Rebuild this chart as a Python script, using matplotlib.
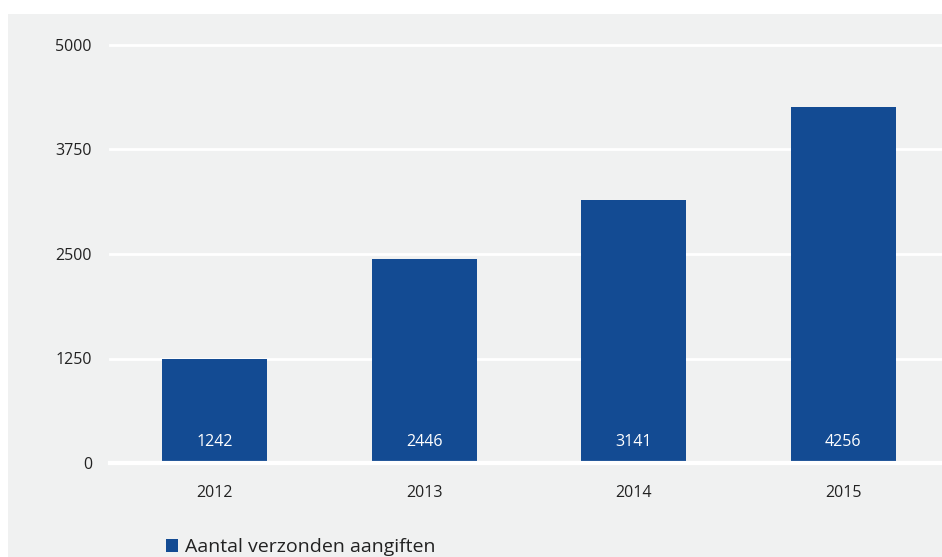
import matplotlib.pyplot as plt
from matplotlib.patches import Rectangle

years = ["2012", "2013", "2014", "2015"]
aangiften = [1242, 2446, 3141, 4256]
yticks = [0, 1250, 2500, 3750, 5000]

blue = "#134b93"
bg = "#f0f1f1"

plt.rcParams["font.family"] = ["Open Sans", "DejaVu Sans"]

fig = plt.figure(figsize=(9.42, 5.57), dpi=100)
fig.patches.append(Rectangle((8 / 942, 0), 1, 1 - 14 / 557, transform=fig.transFigure,
                             facecolor=bg, edgecolor="none", zorder=-10))

ax = fig.add_axes([110 / 942, 94 / 557, 838 / 942, 418 / 557])
ax.set_facecolor("none")

x = range(len(years))
bars = ax.bar(x, aangiften, width=0.5, color=blue, zorder=3, label="Aantal verzonden aangiften")

for xi, v in zip(x, aangiften):
    ax.annotate(str(v), (xi, 0), xytext=(0, 15), textcoords="offset points",
                ha="center", va="center", color="white", fontsize=11.5, zorder=4)

ax.set_xlim(-0.5, 3.5)
ax.set_ylim(0, 5000)
ax.set_yticks(yticks)
ax.set_xticks(list(x))
ax.set_xticklabels(years)
for y in yticks:
    ax.axhline(y, color="white", lw=3 if y == 0 else 2, zorder=2 if y else 5, clip_on=False)

for s in ax.spines.values():
    s.set_visible(False)
ax.tick_params(axis="both", length=0, labelsize=11.5, colors="#222222")
ax.tick_params(axis="y", pad=13)
ax.tick_params(axis="x", pad=16)

ax.legend(handles=[bars], loc="lower left", bbox_to_anchor=(148 / 942, -17 / 557),
          bbox_transform=fig.transFigure, frameon=False, handlelength=0.65,
          handleheight=0.65, handletextpad=0.35, fontsize=14, labelcolor="#222222")

fig.savefig("out.png", dpi=100, facecolor="white")
